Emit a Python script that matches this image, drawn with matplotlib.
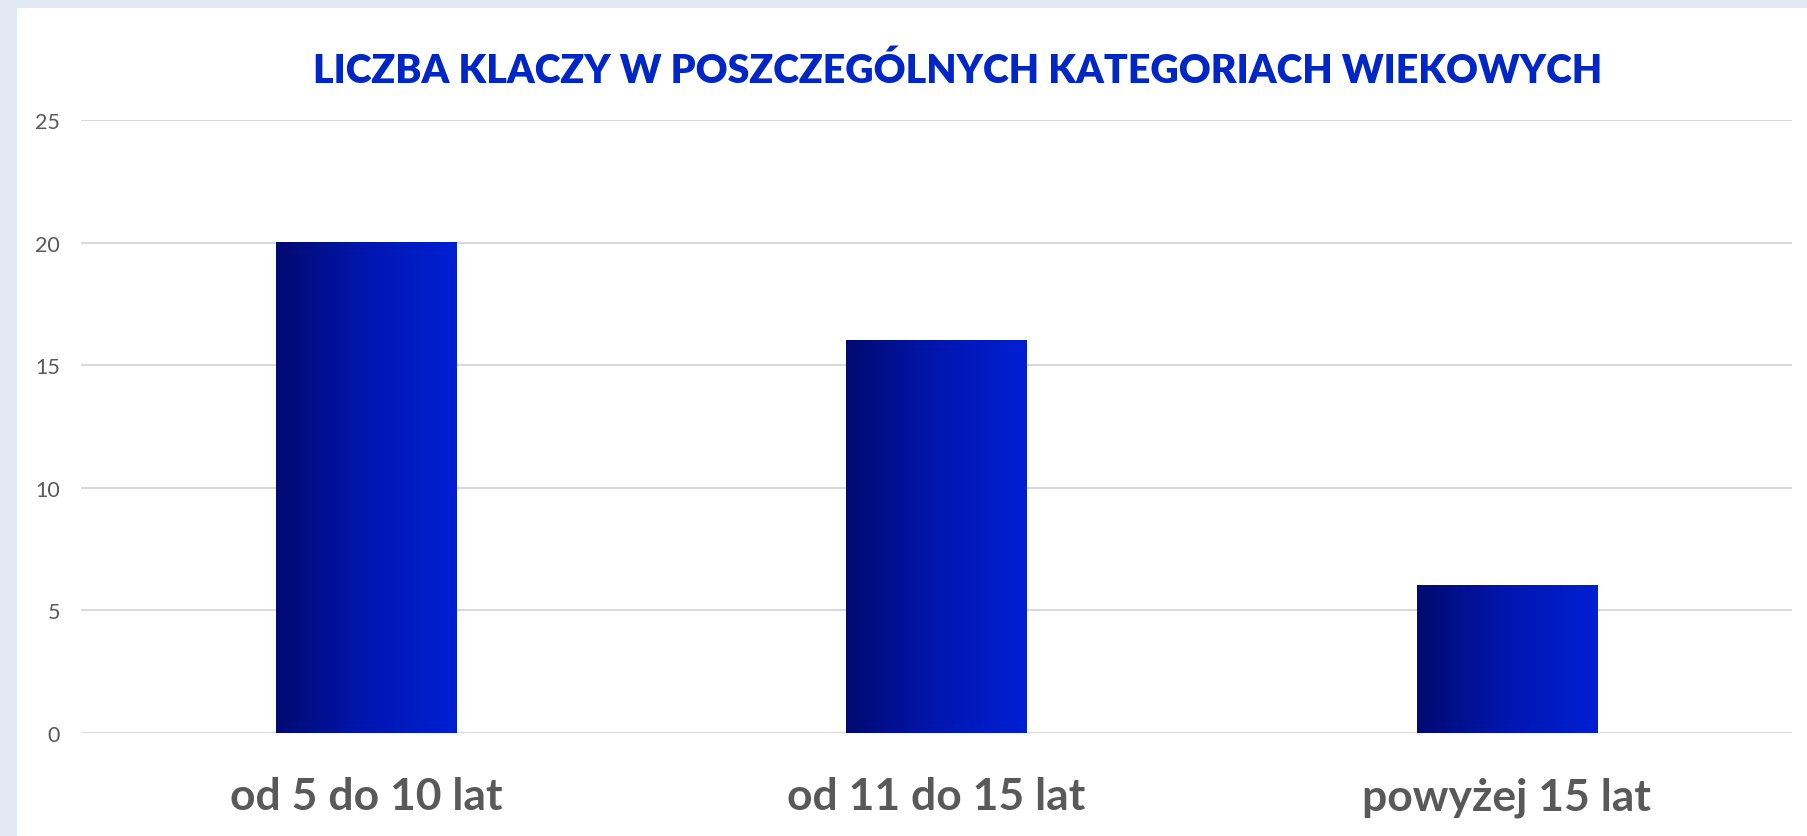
import matplotlib
matplotlib.use("Agg")
import matplotlib.pyplot as plt
import numpy as np
from matplotlib.patches import Rectangle
from matplotlib.colors import LinearSegmentedColormap

categories = ["od 5 do 10 lat", "od 11 do 15 lat", "powyżej 15 lat"]
values = [20, 16, 6]
yticks = [0, 5, 10, 15, 20, 25]
title = "LICZBA KLACZY W POSZCZEGÓLNYCH KATEGORIACH WIEKOWYCH"

plt.rcParams['font.family'] = ['Lato', 'DejaVu Sans']

fig = plt.figure(figsize=(18.08, 8.37), dpi=100, facecolor="#E2E9F5")
# white chart area
fig.patches.append(Rectangle((17/1808, 0), 1 - 17/1808, 1 - 9/837,
                             transform=fig.transFigure, facecolor="white",
                             edgecolor="none", zorder=-10))

ax = fig.add_axes([81/1808, 1 - 734/837, (1792 - 81)/1808, (734 - 121)/837])
ax.set_facecolor("none")
x = np.arange(len(categories))
bars = ax.bar(x, values, width=0.316, color="none", zorder=3)

cmap = LinearSegmentedColormap.from_list("g", ["#000A70", "#0016B0", "#0020D4"])
grad = np.linspace(0, 1, 256).reshape(1, -1)
for b in bars:
    x0, y0 = b.get_x(), b.get_y()
    w, h = b.get_width(), b.get_height()
    ax.imshow(grad, cmap=cmap, aspect="auto", extent=[x0, x0 + w, y0, y0 + h],
              zorder=3, interpolation="bilinear")

ax.set_xlim(-0.5, len(categories) - 0.5)
ax.set_ylim(0, 25)
ax.set_yticks(yticks)
ax.set_xticks(x)
ax.set_xticklabels(categories, fontsize=32, fontweight="bold", color="#595959")
ax.tick_params(axis="x", length=0, pad=31)
ax.tick_params(axis="y", length=0, pad=15, labelsize=15.5, labelcolor="#595959")
ax.yaxis.grid(True, color="#D9D9D9", linewidth=1.5, zorder=0)
ax.set_axisbelow(True)
for s in ax.spines.values():
    s.set_visible(False)

fig.text(958/1808, 1 - 71/837, title, ha="center", va="center",
         fontsize=28.3, fontweight="heavy", color="#0026C6")

fig.savefig("out.png", dpi=100, facecolor=fig.get_facecolor())
